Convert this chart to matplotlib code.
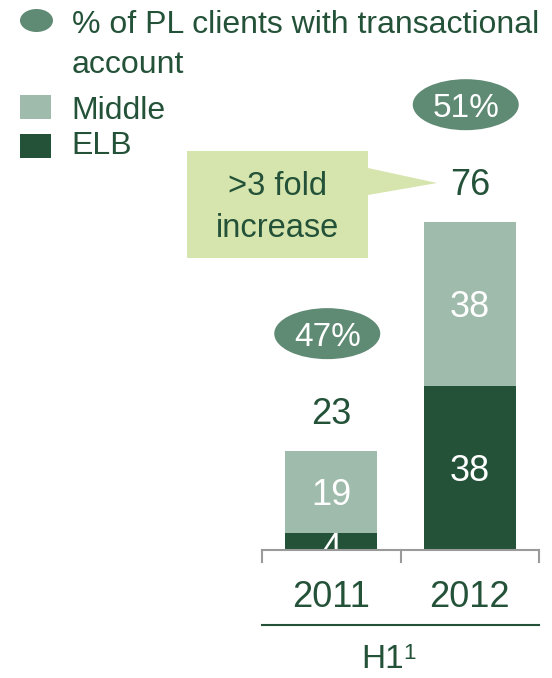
import matplotlib
matplotlib.use("Agg")
import matplotlib.pyplot as plt
from matplotlib.patches import Ellipse, Polygon, Rectangle
from matplotlib.transforms import IdentityTransform

plt.rcParams['font.family'] = ['Liberation Sans', 'DejaVu Sans']

# Data
years = ["2011", "2012"]
elb = [4, 38]
middle = [19, 38]
totals = [23, 76]
share_pct = ["47%", "51%"]
group_label = "H1"
group_note = "1"
legend_oval = ["% of PL clients with transactional", "account"]
legend_bars = ["Middle", "ELB"]
callout_lines = [">3 fold", "increase"]

DARK = "#245239"
LIGHT = "#9fbbab"
OVAL = "#5f8a74"
TEXT = "#245239"
CALLOUT = "#d6e4ad"
GREY = "#9a9a9a"

W, H = 552, 678
fig = plt.figure(figsize=(W / 100, H / 100), dpi=100)
fig.patch.set_facecolor("white")
PIX = IdentityTransform()


def fx(px):
    return px / W


def fy(py):
    return 1 - py / H


def cap(size_pt):
    # approximate cap height in pixels for the chosen sans font
    return size_pt * 100 / 72 * 0.716


def ptext(x, y, s, size, color=TEXT, ha="left", va="baseline", **kw):
    # text placed in pixel coordinates measured from the top-left corner
    return fig.text(x, H - y, s, transform=PIX, ha=ha, va=va, color=color,
                    fontsize=size, **kw)


# bar axes: baseline at y=550 px, category ticks from x=262 to 539 px
px_per_unit = 4.32
ax = fig.add_axes([fx(262), fy(550), fx(539) - fx(262), fy(0) - fy(550)])
ax.set_xlim(-0.5, 1.5)
ax.set_ylim(0, 550 / px_per_unit)
ax.axis("off")

x = list(range(len(years)))
bw = 0.665
ax.bar(x, elb, width=bw, color=DARK, zorder=2)
ax.bar(x, middle, width=bw, bottom=elb, color=LIGHT, zorder=2)

VAL = 26
for i in x:
    ax.annotate(str(middle[i]), xy=(i, elb[i] + middle[i] / 2), xytext=(0, -cap(VAL) / 2),
                textcoords="offset pixels", ha="center", va="baseline",
                color="white", fontsize=VAL, zorder=3)
    shift = -5 if elb[i] < 10 else 0
    ax.annotate(str(elb[i]), xy=(i, elb[i] / 2), xytext=(0, shift - cap(VAL) / 2),
                textcoords="offset pixels", ha="center", va="baseline",
                color="white", fontsize=VAL, zorder=3, annotation_clip=False)
    ax.annotate(str(totals[i]), xy=(i, totals[i]), xytext=(0, 27),
                textcoords="offset pixels", ha="center", va="baseline",
                color=TEXT, fontsize=VAL, annotation_clip=False)

fig.canvas.draw()

# percentage ovals above each bar
PCT = 24
for i in x:
    bx, by = ax.transData.transform((i, totals[i]))
    cx, cy = bx - 4, by + 117
    fig.add_artist(Ellipse((cx, cy), 106, 51, transform=PIX,
                           facecolor=OVAL, edgecolor="none"))
    fig.text(cx, cy - cap(PCT) / 2, share_pct[i], transform=PIX, ha="center",
             va="baseline", color="white", fontsize=PCT)

# axis baseline with ticks
fig.add_artist(plt.Line2D([262, 539], [H - 550, H - 550], transform=PIX,
                          color=GREY, lw=1.5, zorder=5))
for tx in (262, 400.5, 539):
    fig.add_artist(plt.Line2D([tx, tx], [H - 550, H - 562], transform=PIX,
                              color=GREY, lw=1.5, zorder=5))

# category labels
for i in x:
    bx, _ = ax.transData.transform((i, 0))
    ptext(bx, 607, years[i], 26, ha="center")

# group line and label
fig.add_artist(plt.Line2D([262, 539], [H - 625, H - 625], transform=PIX,
                          color=DARK, lw=1.5))
ptext(404, 668, group_label, 24, ha="right")
ptext(403, 659, group_note, 16, ha="left")

# callout
box = [(187, 151), (368, 151), (368, 168), (437, 183), (368, 195), (368, 258), (187, 258)]
fig.add_artist(Polygon([(a, H - b) for a, b in box], closed=True, transform=PIX,
                       facecolor=CALLOUT, edgecolor="none"))
ptext(278, 195, callout_lines[0], 23.5, ha="center")
ptext(278, 237, callout_lines[1], 23.5, ha="center")

# legend
LEG = 23
fig.add_artist(Ellipse((36.5, H - 20.5), 33, 23, transform=PIX,
                       facecolor=OVAL, edgecolor="none"))
ptext(72, 33, legend_oval[0], LEG)
ptext(72, 73, legend_oval[1], LEG)
fig.add_artist(Rectangle((20, H - 119), 31, 24, transform=PIX,
                         facecolor=LIGHT, edgecolor="none"))
ptext(71, 119, legend_bars[0], LEG)
fig.add_artist(Rectangle((20, H - 158), 31, 24, transform=PIX,
                         facecolor=DARK, edgecolor="none"))
ptext(71, 154.5, legend_bars[1], LEG)

fig.savefig("out.png", dpi=100, facecolor="white")
